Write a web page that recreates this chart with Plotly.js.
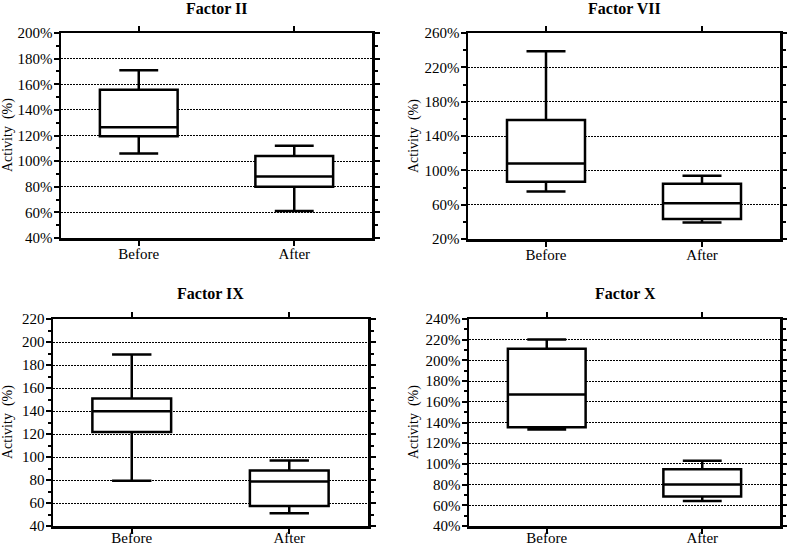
<!DOCTYPE html>
<html>
<head>
<meta charset="utf-8">
<script src="https://cdn.plot.ly/plotly-3.0.1.min.js"></script>
<style>html,body{margin:0;padding:0;background:#fff;}#chart{width:787px;height:545px;}</style>
</head>
<body>
<div id="chart"></div>
<script>
const categories = ['Before', 'After'];

// Factor II (%)
const f2_lower = [106, 61];
const f2_q1 = [119.4, 80];
const f2_median = [126.4, 88];
const f2_q3 = [155.8, 104];
const f2_upper = [171, 112];

// Factor VII (%)
const f7_lower = [75.3, 39.1];
const f7_q1 = [86.6, 43.4];
const f7_median = [108, 61.7];
const f7_q3 = [158.7, 84.3];
const f7_upper = [238.6, 93.6];

// Factor IX
const f9_lower = [79.3, 51.1];
const f9_q1 = [121.7, 57.5];
const f9_median = [139.8, 78.7];
const f9_q3 = [150.8, 88.3];
const f9_upper = [189.2, 97];

// Factor X (%)
const f10_lower = [133.2, 64.2];
const f10_q1 = [135.5, 68.4];
const f10_median = [167.1, 80.1];
const f10_q3 = [211.3, 94.9];
const f10_upper = [220.3, 103];

const titles = ['Factor II', 'Factor VII', 'Factor IX', 'Factor X'];
const yTitle = 'Activity\u00a0\u00a0(%)';

const FONT = 'Liberation Serif, Times New Roman, serif';

function boxTrace(lo, q1, med, q3, up, xa, ya) {
  return {
    type: 'box',
    x: categories,
    lowerfence: lo, q1: q1, median: med, q3: q3, upperfence: up,
    xaxis: xa, yaxis: ya,
    width: 0.5,
    whiskerwidth: 0.5,
    fillcolor: '#ffffff',
    line: {color: '#000000', width: 2.5},
    boxpoints: false,
    hoverinfo: 'skip',
    showlegend: false
  };
}

const data = [
  boxTrace(f2_lower, f2_q1, f2_median, f2_q3, f2_upper, 'x', 'y'),
  boxTrace(f7_lower, f7_q1, f7_median, f7_q3, f7_upper, 'x2', 'y2'),
  boxTrace(f9_lower, f9_q1, f9_median, f9_q3, f9_upper, 'x3', 'y3'),
  boxTrace(f10_lower, f10_q1, f10_median, f10_q3, f10_upper, 'x4', 'y4')
];

function xAxis(domain, anchor, standoff) {
  return {
    domain: domain, anchor: anchor,
    type: 'category',
    range: [-0.5, 1.5],
    showline: true, linewidth: 2.5, linecolor: '#000',
    mirror: 'allticks',
    ticks: 'outside', ticklen: 5, tickwidth: 2, tickcolor: '#000',
    showgrid: false, zeroline: false,
    tickfont: {family: FONT, size: 15, color: '#000'},
    ticklabelstandoff: standoff,
    fixedrange: true
  };
}

function yAxis(domain, anchor, range, dtick, minorDtick, suffix) {
  return {
    domain: domain, anchor: anchor,
    range: range,
    tickmode: 'linear', tick0: range[0], dtick: dtick,
    ticksuffix: suffix,
    showline: true, linewidth: 2.5, linecolor: '#000',
    mirror: 'allticks',
    ticks: 'outside', ticklen: 5, tickwidth: 2, tickcolor: '#000',
    minor: {dtick: minorDtick, tick0: range[0], ticks: 'outside', ticklen: 3, tickwidth: 2, tickcolor: '#000', showgrid: false},
    showgrid: true, gridcolor: '#000', gridwidth: 1, griddash: '2px,1px',
    zeroline: false,
    tickfont: {family: FONT, size: 15, color: '#000'},
    ticklabelstandoff: -2,
    fixedrange: true
  };
}

const W = 787, H = 545;
const px = v => v / W;
const py = v => 1 - v / H;

function ytitle(x, y) {
  return {text: yTitle, textangle: -90, x: px(x), y: py(y), xref: 'paper', yref: 'paper',
          xanchor: 'center', yanchor: 'middle', showarrow: false, font: {size: 14, family: FONT}};
}
function ptitle(t, x, y) {
  return {text: '<b>' + t + '</b>', x: px(x), y: py(y), xref: 'paper', yref: 'paper',
          xanchor: 'center', yanchor: 'middle', showarrow: false, font: {size: 16, family: FONT}};
}

const layout = {
  width: W, height: H,
  margin: {l: 0, r: 0, t: 0, b: 0},
  paper_bgcolor: '#fff', plot_bgcolor: '#fff',
  showlegend: false,
  font: {family: FONT, color: '#000'},
  xaxis: xAxis([px(61), px(372)], 'y', -5),
  yaxis: yAxis([py(238), py(33)], 'x', [40, 200], 20, 10, '%'),
  xaxis2: xAxis([px(468), px(780)], 'y2', -5),
  yaxis2: yAxis([py(239), py(33)], 'x2', [20, 260], 40, 20, '%'),
  xaxis3: xAxis([px(53), px(368)], 'y3', -9),
  yaxis3: yAxis([py(526), py(319)], 'x3', [40, 220], 20, 10, ''),
  xaxis4: xAxis([px(469), px(780)], 'y4', -9),
  yaxis4: yAxis([py(526), py(319)], 'x4', [40, 240], 20, 10, '%'),
  annotations: [
    ptitle(titles[0], 216.5, 8),
    ptitle(titles[1], 624, 8),
    ptitle(titles[2], 210.5, 293),
    ptitle(titles[3], 625, 293),
    ytitle(8, 135),
    ytitle(414, 136),
    ytitle(8, 422),
    ytitle(414, 422)
  ]
};

Plotly.newPlot('chart', data, layout, {staticPlot: true, displayModeBar: false});
</script>
</body>
</html>
